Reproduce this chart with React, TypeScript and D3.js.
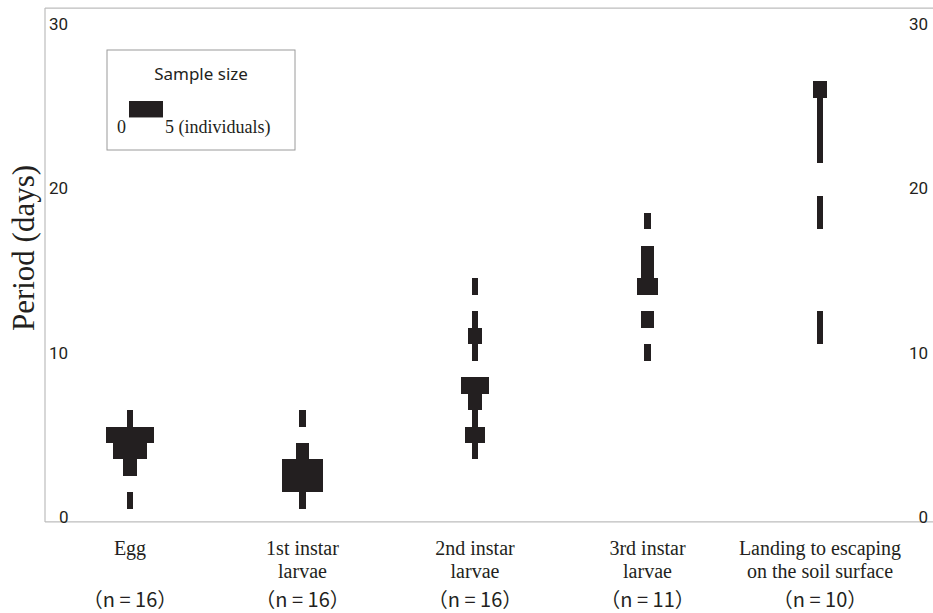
import * as React from 'react';
import * as d3 from 'd3';

// stages on the x axis
const categories = ['Egg', '1st instar larvae', '2nd instar larvae', '3rd instar larvae', 'Landing'];
const categoryLines = [
  ['Egg'],
  ['1st instar', 'larvae'],
  ['2nd instar', 'larvae'],
  ['3rd instar', 'larvae'],
  ['Landing to escaping', 'on the soil surface'],
];
const sampleSizes = [16, 16, 16, 11, 10];

// days and number of individuals per day, one pair of arrays per stage
const eggDays = [1, 3, 4, 5, 6];
const eggCounts = [1, 2, 5, 7, 1];
const firstDays = [1, 2, 3, 4, 6];
const firstCounts = [1, 6, 6, 2, 1];
const secondDays = [4, 5, 6, 7, 8, 10, 11, 12, 14];
const secondCounts = [1, 3, 1, 2, 4, 1, 2, 1, 1];
const thirdDays = [10, 12, 14, 15, 16, 18];
const thirdCounts = [1, 2, 3, 2, 2, 1];
const landDays = [11, 12, 18, 19, 22, 23, 24, 25, 26];
const landCounts = [1, 1, 1, 1, 1, 1, 1, 1, 2];

const yTicks = [0, 10, 20, 30];
const legendMax = 5;

const W = 933;
const H = 613;
const ink = '#231f20';
const axisGrey = '#bdbdbd';
const serif = '"Liberation Serif", "DejaVu Serif", serif';
const sans = 'Roboto, "Noto Sans", sans-serif';

export default function App() {
  const ref = React.useRef<SVGSVGElement>(null);

  React.useEffect(() => {
    const svg = d3.select(ref.current);
    svg.selectAll('*').remove();

    const y = d3.scaleLinear().domain([0, 30]).range([517, 23.5]);
    const x = d3.scalePoint<string>().domain(categories).range([130, 820]);
    const w = d3.scaleLinear().domain([0, legendMax]).range([0, 34]);

    const left = 45;
    const top = y(30.94);
    const bottom = y(-0.3);

    // frame
    const frame = svg.append('g').attr('stroke', axisGrey).attr('stroke-width', 1.2).attr('fill', 'none');
    frame.append('line').attr('x1', left).attr('x2', left).attr('y1', top).attr('y2', bottom);
    frame.append('line').attr('x1', left).attr('x2', W).attr('y1', top).attr('y2', top);
    frame.append('line').attr('x1', left).attr('x2', W).attr('y1', bottom).attr('y2', bottom);

    // tick labels left and right
    svg.append('g').selectAll('text.l').data(yTicks).join('text')
      .attr('class', 'l')
      .attr('x', d => (d === 0 ? 59 : 49))
      .attr('y', d => y(d))
      .attr('dy', '0.36em')
      .style('font-family', sans)
      .style('font-size', '17px')
      .attr('fill', ink)
      .text(d => d);
    svg.append('g').selectAll('text.r').data(yTicks).join('text')
      .attr('class', 'r')
      .attr('x', 928)
      .attr('y', d => y(d))
      .attr('dy', '0.36em')
      .attr('text-anchor', 'end')
      .style('font-family', sans)
      .style('font-size', '17px')
      .attr('fill', ink)
      .text(d => d);

    // y title
    svg.append('text')
      .attr('transform', `translate(34,${248}) rotate(-90)`)
      .attr('text-anchor', 'middle')
      .style('font-family', serif)
      .style('font-size', '31px')
      .attr('fill', ink)
      .text('Period (days)');

    // bars, one rect per day, width = number of individuals
    const series = [
      [eggDays, eggCounts],
      [firstDays, firstCounts],
      [secondDays, secondCounts],
      [thirdDays, thirdCounts],
      [landDays, landCounts],
    ];
    series.forEach(([days, counts], i) => {
      const cx = x(categories[i]) as number;
      const g = svg.append('g').attr('fill', ink).attr('shape-rendering', 'crispEdges');
      g.selectAll('rect').data(days).join('rect')
        .attr('x', (d, j) => cx - w(counts[j]) / 2)
        .attr('width', (d, j) => w(counts[j]))
        .attr('y', d => y(d + 0.5))
        .attr('height', d => y(d - 0.5) - y(d + 0.5));
    });

    // category labels
    categoryLines.forEach((lines, i) => {
      lines.forEach((line, k) => {
        svg.append('text')
          .attr('x', x(categories[i]) as number)
          .attr('y', 555 + k * 23)
          .attr('text-anchor', 'middle')
          .style('font-family', serif)
          .style('font-size', '20px')
          .attr('fill', ink)
          .text(line);
      });
    });

    svg.append('g').selectAll('text').data(sampleSizes).join('text')
      .attr('x', (d, i) => x(categories[i]) as number)
      .attr('y', 607)
      .attr('text-anchor', 'middle')
      .style('font-family', '"Noto Sans CJK JP", "Noto Sans", sans-serif')
      .style('font-size', '20px')
      .attr('fill', ink)
      .text(d => `（n = ${d}）`);

    // legend
    const lg = svg.append('g');
    lg.append('rect')
      .attr('x', 107).attr('y', 50).attr('width', 188).attr('height', 100)
      .attr('fill', 'white').attr('stroke', '#9a9a9a').attr('stroke-width', 1);
    lg.append('text')
      .attr('x', 201).attr('y', 80)
      .attr('text-anchor', 'middle')
      .style('font-family', '"Noto Sans", sans-serif')
      .style('font-size', '17px')
      .attr('fill', ink)
      .text('Sample size');
    lg.append('rect')
      .attr('x', 129).attr('y', 101)
      .attr('width', w(legendMax))
      .attr('height', y(0) - y(1))
      .attr('fill', ink);
    lg.append('text')
      .attr('x', 117).attr('y', 133)
      .style('font-family', serif)
      .style('font-size', '18px')
      .attr('fill', ink)
      .text('0');
    lg.append('text')
      .attr('x', 165).attr('y', 133)
      .style('font-family', serif)
      .style('font-size', '18px')
      .attr('fill', ink)
      .text(`${legendMax} (individuals)`);
  }, []);

  return (
    <svg ref={ref} width={W} height={H}
      style={{ position: 'absolute', left: 0, top: 0, background: 'white' }} />
  );
}
